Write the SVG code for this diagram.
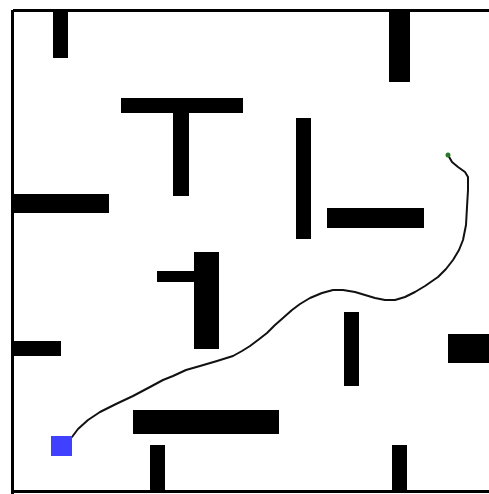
<svg xmlns="http://www.w3.org/2000/svg" width="489" height="494" viewBox="0 0 489 494">
<style>
.wall{fill:#000}
.path{fill:none;stroke:#111;stroke-width:2;stroke-linejoin:round;stroke-linecap:round}
</style>
<rect x="0" y="0" width="489" height="494" fill="#fff"/>
<g id="border">
<rect class="wall" x="13" y="9" width="476" height="3"/>
<rect class="wall" x="11" y="10" width="3" height="484"/>
<rect class="wall" x="11" y="490" width="478" height="3"/>
</g>
<g id="walls">
<rect class="wall" x="53" y="10" width="15" height="48"/>
<rect class="wall" x="121" y="98" width="122" height="15"/>
<rect class="wall" x="173" y="112" width="16" height="84"/>
<rect class="wall" x="12" y="194" width="97" height="19"/>
<rect class="wall" x="389" y="10" width="21" height="72"/>
<rect class="wall" x="296" y="118" width="15" height="121"/>
<rect class="wall" x="327" y="208" width="97" height="20"/>
<rect class="wall" x="157" y="271" width="37" height="11"/>
<rect class="wall" x="194" y="252" width="25" height="97"/>
<rect class="wall" x="12" y="341" width="49" height="15"/>
<rect class="wall" x="344" y="312" width="15" height="74"/>
<rect class="wall" x="448" y="334" width="41" height="29"/>
<rect class="wall" x="133" y="410" width="146" height="24"/>
<rect class="wall" x="150" y="445" width="15" height="47"/>
<rect class="wall" x="392" y="445" width="15" height="47"/>
</g>
<g id="connectors">
<polyline class="path" points="72,437 78,429 88,420 100,412 116,404 133,396 150,387 163,380 173,376 186,370 200,366 217,361 233,356 242,351 250,346 258,340 267,333 275,325 283,318 292,310 300,304 310,298 322,293 333,290 343,290 355,292 365,295 375,298 385,300 395,300 405,297 415,292 425,286 438,277 446,269 453,260 459,250 463,240 466,225 467,207 468,190 468,177 465,172 458,167 452,162 448,155"/>
</g>
<g id="start">
<rect x="51" y="436" width="21" height="20" fill="#4040ff"/>
</g>
<g id="goal">
<circle cx="448" cy="155" r="2.5" fill="#2a7a2a"/>
</g>
</svg>
